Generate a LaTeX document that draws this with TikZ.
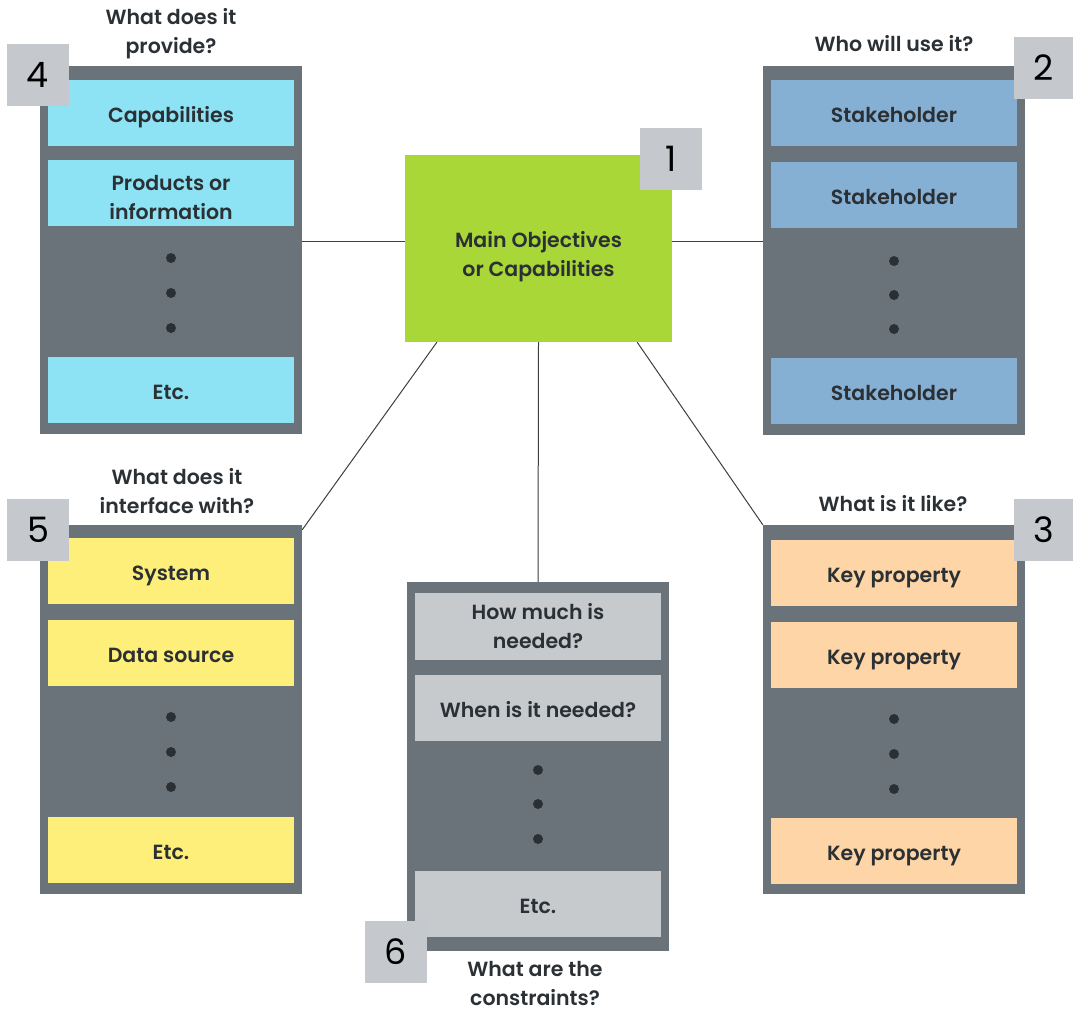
\documentclass[tikz,border=0pt]{standalone}
\usepackage{fontspec}
\setmainfont{Poppins}[BoldFont={Poppins SemiBold}]
\usetikzlibrary{calc,backgrounds}
\definecolor{panelgray}{HTML}{6B737A}
\definecolor{badgegray}{HTML}{C5C8CC}
\definecolor{cellcyan}{HTML}{8DE3F3}
\definecolor{cellblue}{HTML}{86AFD4}
\definecolor{cellyellow}{HTML}{FEEE7A}
\definecolor{cellorange}{HTML}{FDD5A6}
\definecolor{cellgray}{HTML}{C7CACD}
\definecolor{maingreen}{HTML}{A8D737}
\definecolor{ink}{HTML}{2B3035}
\definecolor{linkgray}{HTML}{3A3F44}
\tikzset{
  txt/.style={font=\bfseries\fontsize{20.5}{29}\selectfont, text=ink, align=center},
  panel/.style={fill=panelgray, draw=none, minimum width=262pt, minimum height=369pt, inner sep=0pt},
  cell/.style={txt, draw=none, minimum width=246pt, minimum height=66pt, inner sep=0pt, text height=19pt, text depth=0pt},
  cellbox/.style={draw=none, minimum width=246pt, minimum height=66pt, inner sep=0pt},
  badge/.style={fill=badgegray, draw=none, minimum width=62pt, minimum height=62pt, inner sep=0pt,
    font=\fontsize{35}{35}\selectfont, text=black},
  dot/.style={circle, fill=ink, draw=none, minimum size=10pt, inner sep=0pt},
  link/.style={draw=linkgray, line width=1pt},
  question/.style={txt, inner sep=0pt}
}
\begin{document}
\begin{tikzpicture}[x=1pt,y=-1pt]
\useasboundingbox (0,0) rectangle (1073,1012);

% central objective block
\node[fill=maingreen, minimum width=267pt, minimum height=187pt, inner sep=0pt] (g) at (538.5,248.5) {};
\node[txt] (gt) at (538.5,256.5) {Main Objectives\\or Capabilities};
\node[badge] (b1) at (671,158.5) {1};

% panel 4: what it provides
\node[panel, minimum height=368pt] (p4) at (171,250) {};
\node[cell, fill=cellcyan] (c4a) at (171,113) {Capabilities};
\node[cellbox, fill=cellcyan] (c4b) at (171,193) {};
\node[txt] (c4bt) at (171,198) {Products or\\information};
\node[dot] (d4a) at (171,258) {};
\node[dot] (d4b) at (171,293) {};
\node[dot] (d4c) at (171,328) {};
\node[cell, fill=cellcyan] (c4c) at (171,390) {Etc.};
\node[badge] (b4) at (38,75) {4};
\node[question] (q4) at (171,33.5) {What does it\\provide?};

% panel 2: who uses it
\node[panel] (p2) at (894,250.5) {};
\node[cell, fill=cellblue] (c2a) at (894,113) {Stakeholder};
\node[cell, fill=cellblue] (c2b) at (894,195) {Stakeholder};
\node[dot] (d2a) at (894,261) {};
\node[dot] (d2b) at (894,295) {};
\node[dot] (d2c) at (894,329) {};
\node[cell, fill=cellblue] (c2c) at (894,391) {Stakeholder};
\node[badge, minimum width=59pt] (b2) at (1043.5,67.5) {2};
\node[question] (q2) at (894,44) {Who will use it?};

% panel 5: interfaces
\node[panel] (p5) at (171,709.5) {};
\node[cell, fill=cellyellow] (c5a) at (171,571) {System};
\node[cell, fill=cellyellow] (c5b) at (171,653) {Data source};
\node[dot] (d5a) at (171,717) {};
\node[dot] (d5b) at (171,752) {};
\node[dot] (d5c) at (171,787) {};
\node[cell, fill=cellyellow] (c5c) at (171,850) {Etc.};
\node[badge] (b5) at (38,530) {5};
\node[question] (q5) at (177,491.5) {What does it\\interface with?};

% panel 3: properties
\node[panel] (p3) at (894,709.5) {};
\node[cell, fill=cellorange] (c3a) at (894,573) {Key property};
\node[cell, fill=cellorange] (c3b) at (894,655) {Key property};
\node[dot] (d3a) at (894,719) {};
\node[dot] (d3b) at (894,754) {};
\node[dot] (d3c) at (894,789) {};
\node[cell, fill=cellorange] (c3c) at (894,851) {Key property};
\node[badge, minimum width=59pt] (b3) at (1043.5,530) {3};
\node[question] (q3) at (893,504) {What is it like?};

% panel 6: constraints
\node[panel] (p6) at (538,766.5) {};
\node[cellbox, fill=cellgray, minimum height=67pt] (c6a) at (538,626.5) {};
\node[txt] (c6at) at (538,626.5) {How much is\\needed?};
\node[cell, fill=cellgray] (c6b) at (538,708) {When is it needed?};
\node[dot] (d6a) at (538,770) {};
\node[dot] (d6b) at (538,804) {};
\node[dot] (d6c) at (538,839) {};
\node[cell, fill=cellgray] (c6c) at (538,904) {Etc.};
\node[badge] (b6) at (396,952) {6};
\node[question] (q6) at (535,983) {What are the\\constraints?};

% connectors behind the blocks
\begin{scope}[on background layer]
  \coordinate (gw) at (g.west |- 0,241);
  \coordinate (ge) at (g.east |- 0,241);
  \draw[link] (p4.east |- gw) -- (gw);
  \draw[link] (ge) -- (p2.west |- ge);
  \draw[link] ($(g.south west)!0.12!(g.south east)$) -- ($(p5.north east)+(0,5)$);
  \draw[link] (g.south) -- (p6.north);
  \draw[link] ($(g.south west)!0.869!(g.south east)$) -- (p3.north west);
\end{scope}
\end{tikzpicture}
\end{document}
